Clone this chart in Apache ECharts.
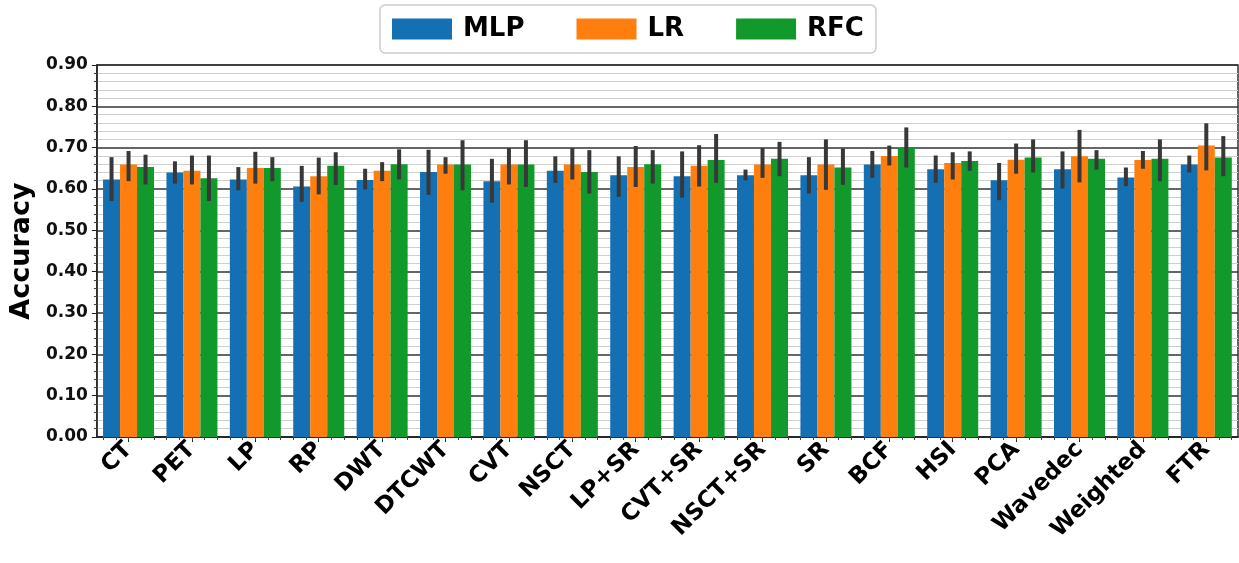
<!DOCTYPE html>
<html>
<head>
<meta charset="utf-8">
<script src="https://cdn.jsdelivr.net/npm/echarts@6/dist/echarts.min.js"></script>
<style>
html,body{margin:0;padding:0;background:#fff;}
#chart{width:1239px;height:563px;}
</style>
</head>
<body>
<div id="chart"></div>
<script>
const categories = ['CT','PET','LP','RP','DWT','DTCWT','CVT','NSCT','LP+SR','CVT+SR','NSCT+SR','SR','BCF','HSI','PCA','Wavedec','Weighted','FTR'];
const seriesNames = ['MLP','LR','RFC'];

const mlp   = [0.623,0.640,0.623,0.606,0.622,0.641,0.619,0.644,0.633,0.631,0.633,0.633,0.659,0.648,0.621,0.648,0.628,0.659];
const mlpLo = [0.571,0.613,0.597,0.569,0.599,0.586,0.567,0.615,0.581,0.579,0.621,0.589,0.627,0.615,0.573,0.601,0.607,0.640];
const mlpHi = [0.677,0.667,0.653,0.656,0.649,0.695,0.673,0.679,0.679,0.691,0.647,0.677,0.692,0.681,0.663,0.691,0.652,0.681];

const lr   = [0.659,0.644,0.651,0.631,0.644,0.659,0.659,0.659,0.653,0.656,0.659,0.659,0.680,0.663,0.671,0.679,0.670,0.705];
const lrLo = [0.619,0.611,0.613,0.587,0.619,0.637,0.611,0.623,0.605,0.606,0.627,0.598,0.657,0.623,0.637,0.616,0.649,0.645];
const lrHi = [0.692,0.681,0.690,0.676,0.665,0.677,0.699,0.699,0.704,0.706,0.699,0.720,0.705,0.689,0.710,0.743,0.692,0.759];

const rfc   = [0.653,0.626,0.651,0.656,0.660,0.659,0.659,0.641,0.660,0.670,0.673,0.652,0.699,0.668,0.676,0.673,0.673,0.676];
const rfcLo = [0.611,0.571,0.619,0.610,0.623,0.597,0.605,0.589,0.613,0.615,0.631,0.610,0.652,0.644,0.640,0.647,0.619,0.631];
const rfcHi = [0.683,0.681,0.677,0.689,0.696,0.718,0.718,0.694,0.694,0.733,0.714,0.698,0.749,0.691,0.720,0.694,0.720,0.728];

const yTickLabels = ['0.00','0.10','0.20','0.30','0.40','0.50','0.60','0.70','0.80','0.90'];

const colors = ['#1470b2','#ff7f0e','#12992c'];
const BAR_W = 17;
const FONT = 'DejaVu Sans';

const values = [mlp, lr, rfc];
const los = [mlpLo, lrLo, rfcLo];
const his = [mlpHi, lrHi, rfcHi];

const barSeries = seriesNames.map((n, k) => ({
  name: n, type: 'bar', data: values[k], barWidth: BAR_W, barGap: '0%',
  itemStyle: { color: colors[k] }, z: 3
}));

const errSeries = seriesNames.map((n, k) => ({
  name: n + ' err', type: 'custom', z: 10,
  data: categories.map((c, i) => [i, los[k][i], his[k][i]]),
  encode: { x: 0, y: [1, 2] },
  renderItem: function (params, api) {
    const i = api.value(0);
    const p1 = api.coord([i, api.value(1)]);
    const p2 = api.coord([i, api.value(2)]);
    const x = p1[0] + (k - 1) * BAR_W;
    return { type: 'line', shape: { x1: x, y1: p1[1], x2: x, y2: p2[1] },
             style: { stroke: '#383838', lineWidth: 4 } };
  }
}));

const minorCats = [];
categories.forEach(c => { for (let j = 0; j < 5; j++) minorCats.push(c + '_' + j); });

const chart = echarts.init(document.getElementById('chart'), null, { renderer: 'canvas' });
chart.setOption({
  animation: false,
  backgroundColor: '#fff',
  legend: {
    data: seriesNames, left: 380, top: 5,
    icon: 'rect', itemWidth: 60, itemHeight: 21, itemGap: 52,
    padding: [11, 12, 11, 12],
    borderColor: '#cccccc', borderWidth: 1.5, borderRadius: 5,
    textStyle: { fontFamily: FONT, fontWeight: 'bold', fontSize: 26, color: '#000', padding: [0, 0, 0, 6] }
  },
  grid: { left: 92, right: 1, top: 65, bottom: 126, show: true, borderColor: '#333', borderWidth: 1.5 },
  xAxis: [{
    type: 'category', data: categories,
    axisLine: { show: true, lineStyle: { color: '#222', width: 1.5 } },
    axisTick: { show: true, alignWithLabel: true, length: 5, lineStyle: { color: '#222' } },
    axisLabel: { rotate: 45, interval: 0, margin: 9, fontFamily: FONT, fontWeight: 'bold', fontSize: 23, color: '#000' }
  }, {
    type: 'category', data: minorCats, position: 'bottom',
    axisLine: { show: false },
    axisTick: { show: true, alignWithLabel: true, interval: 0, length: 3, lineStyle: { color: '#444' } },
    axisLabel: { show: false },
    splitLine: { show: false }
  }],
  yAxis: {
    type: 'value', min: 0, max: 0.9, interval: 0.1,
    name: 'Accuracy', nameLocation: 'middle', nameGap: 58,
    nameTextStyle: { fontFamily: FONT, fontWeight: 'bold', fontSize: 27, color: '#000' },
    axisLine: { show: true, lineStyle: { color: '#222', width: 1.5 } },
    axisTick: { show: true, length: 5, lineStyle: { color: '#222' } },
    minorTick: { show: true, splitNumber: 5, length: 3, lineStyle: { color: '#444' } },
    axisLabel: { margin: 9, fontFamily: FONT, fontWeight: 'bold', fontSize: 17, color: '#111',
      formatter: v => yTickLabels[Math.round(v * 10)] },
    splitLine: { show: true, lineStyle: { color: '#333', width: 1.5 } },
    minorSplitLine: { show: true, lineStyle: { color: '#cfcfcf', width: 1 } }
  },
  series: barSeries.concat(errSeries)
});
</script>
</body>
</html>
